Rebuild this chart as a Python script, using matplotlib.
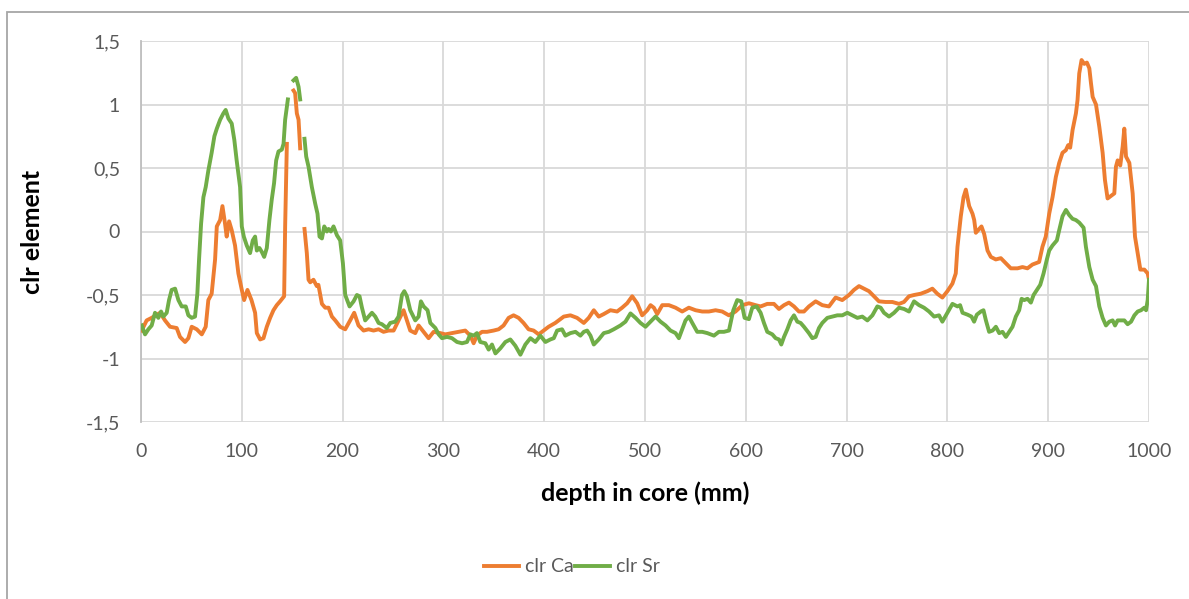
import numpy as np
import matplotlib
matplotlib.use("Agg")
import matplotlib.pyplot as plt
from matplotlib.patches import Rectangle
from matplotlib.lines import Line2D

nan = float("nan")

# ---- data (depth in mm, clr values) ----
ca_depth = [0.7, 5.6, 10.6, 18.9, 23.8, 28.8, 35.4, 38.7, 43.7, 47, 50.3, 55.3, 60.3, 64.2, 66.8, 70.1,
            73.5, 75.2, 78.5, 80.8, 83.4, 85, 87.4, 90, 93.3, 96.6, 100, 102.3, 105.6, 109.6, 113.2, 114.9,
            118.2, 121.5, 124.8, 128.1, 131.4, 134.7, 138, 142, 143, 144.7, 147.5, 151.3, 152.9, 154.6,
            156.3, 157.9, 160, 162.2, 164.5, 166.2, 167.9, 171.1, 174.4, 176, 179.5, 182.8, 186.1, 189.4,
            192.7, 197.6, 202.6, 207.5, 211.5, 215.8, 220.8, 225.8, 230.7, 235.7, 240.6, 245.6, 250.6,
            255.5, 260.5, 263.8, 267.1, 272.1, 275.4, 280.4, 285.3, 290.3, 296.9, 301.9, 308.5, 315.1,
            321.7, 326.7, 330, 333.3, 338.3, 343.2, 349.8, 354.8, 359.7, 364.7, 369.6, 374.6, 379.5,
            384.5, 389.5, 394.5, 399.4, 404.4, 411, 419.4, 426, 432.6, 439.3, 444.2, 449.2, 454.1, 459.1,
            465.7, 472.3, 477.3, 482.3, 487.3, 492.2, 497.2, 502.2, 505.5, 508.8, 512.1, 517.1, 523.7,
            530.3, 536.9, 543.5, 550.2, 556.8, 563.4, 570, 576.6, 583.2, 589.8, 596.5, 603.1, 609.7,
            614.7, 621.3, 627.9, 632.9, 637.9, 642.8, 647.8, 652.7, 657.7, 662.6, 669.3, 675.9, 682.5,
            689.1, 695.7, 702.4, 707.3, 712.3, 717.2, 722.2, 727.2, 732.1, 738.7, 745.4, 752, 756.9,
            761.9, 766.9, 773.5, 780.1, 785.1, 790, 795, 800, 805, 808.3, 810, 813.3, 816, 818.3, 821.6,
            824.9, 826.6, 828.2, 831.5, 833.8, 836.5, 839.8, 843.1, 848, 853, 857.9, 862.9, 869.5, 874.5,
            879.4, 884.4, 891, 894.3, 897.6, 901, 904.3, 907.6, 910.9, 914.2, 917.5, 919.8, 921.8, 924.2,
            927.5, 929.1, 930.8, 933.1, 935.8, 938.4, 940.8, 942.4, 944.1, 947.4, 950.7, 954, 956.3,
            958.9, 962.3, 965.6, 967.2, 968.9, 971.5, 973.9, 975.5, 977.2, 980.5, 983.8, 986.1, 988.7,
            991.4, 995.4, 998.7, 1000]
ca_clr = [-0.78, -0.70, -0.68, -0.64, -0.70, -0.75, -0.76, -0.83, -0.87, -0.84, -0.75, -0.77, -0.81, -0.75,
          -0.54, -0.49, -0.22, 0.04, 0.09, 0.20, 0.06, -0.04, 0.08, 0.01, -0.11, -0.33, -0.46, -0.54, -0.46,
          -0.54, -0.64, -0.80, -0.85, -0.84, -0.75, -0.68, -0.62, -0.58, -0.55, -0.51, 0.04, 0.69, nan,
          1.11, 1.09, 0.93, 0.88, 0.655, nan, 0.02, -0.17, -0.38, -0.40, -0.38, -0.43, -0.42, -0.57, -0.60,
          -0.60, -0.67, -0.70, -0.75, -0.77, -0.70, -0.64, -0.74, -0.78, -0.77, -0.78, -0.77, -0.79, -0.78,
          -0.78, -0.70, -0.62, -0.70, -0.78, -0.80, -0.74, -0.79, -0.84, -0.79, -0.80, -0.81, -0.80, -0.79,
          -0.78, -0.82, -0.88, -0.82, -0.79, -0.79, -0.78, -0.77, -0.74, -0.68, -0.66, -0.68, -0.72, -0.77,
          -0.78, -0.81, -0.78, -0.75, -0.72, -0.67, -0.66, -0.68, -0.72, -0.68, -0.62, -0.67, -0.65, -0.62,
          -0.63, -0.60, -0.565, -0.51, -0.565, -0.66, -0.62, -0.58, -0.60, -0.65, -0.58, -0.58, -0.60,
          -0.63, -0.60, -0.62, -0.63, -0.63, -0.62, -0.63, -0.66, -0.63, -0.58, -0.565, -0.58, -0.59,
          -0.57, -0.57, -0.61, -0.58, -0.56, -0.59, -0.63, -0.63, -0.59, -0.55, -0.58, -0.59, -0.52,
          -0.54, -0.50, -0.46, -0.43, -0.45, -0.47, -0.51, -0.55, -0.555, -0.555, -0.57, -0.555, -0.51,
          -0.50, -0.49, -0.47, -0.45, -0.49, -0.52, -0.47, -0.41, -0.33, -0.12, 0.12, 0.27, 0.33, 0.20,
          0.14, 0.09, -0.01, 0.02, 0.04, -0.02, -0.15, -0.20, -0.22, -0.21, -0.25, -0.29, -0.29, -0.28,
          -0.29, -0.26, -0.24, -0.12, -0.04, 0.14, 0.27, 0.43, 0.54, 0.62, 0.64, 0.68, 0.66, 0.80, 0.93,
          1.035, 1.245, 1.35, 1.32, 1.33, 1.285, 1.17, 1.06, 1.0, 0.825, 0.62, 0.405, 0.26, 0.28, 0.30,
          0.51, 0.56, 0.52, 0.67, 0.81, 0.59, 0.54, 0.30, -0.04, -0.17, -0.30, -0.30, -0.33, -0.38]

sr_depth = [0.7, 4, 7.3, 10.6, 13.9, 17.2, 19.9, 22.2, 25.5, 27.8, 30.4, 33.8, 37.1, 40.4, 44.4, 47, 50.3,
            53.6, 55.9, 57.6, 59.6, 61.9, 64.2, 66.8, 70.1, 72.8, 75.2, 78.5, 81.7, 84, 86.7, 90, 92.6,
            94.9, 98.3, 100, 102, 104.9, 108.2, 110.9, 113.2, 114.9, 117.5, 119.8, 122.2, 124.8, 127.4,
            129.7, 132, 134.1, 136.4, 139.7, 141.4, 143, 145.7, 148, 151.3, 153.9, 156.3, 157.9, 160,
            162.2, 163.9, 166.2, 169.5, 172.8, 175.1, 177.1, 179.5, 181.8, 184.4, 186.1, 188.4, 191,
            194.4, 197.6, 200.3, 202.6, 206.9, 210.9, 214.2, 216.8, 219.2, 222.4, 225.8, 229.1, 232.4,
            235.7, 239, 243.9, 247.3, 252.2, 255.5, 258.9, 261.2, 263.8, 267.1, 272.1, 275.4, 277.7,
            280.4, 284.3, 287, 292, 295.3, 298.6, 303.6, 308.5, 313.5, 318.5, 323.4, 326.7, 330, 333.3,
            336.6, 341.6, 344.9, 348.2, 351.6, 356.5, 361.5, 366.4, 371.4, 376.4, 381.3, 386.3, 391.2,
            396.2, 401.2, 406.1, 409.5, 412.8, 417.7, 421, 426, 431, 435.9, 439.3, 442.6, 445.9, 449.2,
            454.1, 459.1, 464.1, 469, 475.6, 480.6, 485.6, 490.6, 495.5, 500.5, 505.5, 510.4, 515.4,
            520.4, 525.3, 530.3, 533.6, 536.9, 540.2, 543.5, 546.9, 551.8, 556.8, 561.8, 568.4, 573.3,
            578.3, 583.3, 587.6, 591.5, 595.5, 598.8, 603.1, 606.4, 610.7, 614.7, 618, 621.3, 626.3,
            629.6, 632.9, 635.2, 637.9, 641.2, 644.5, 647.8, 651.1, 654.4, 657.7, 662.6, 666, 669.3,
            672.6, 675.9, 680.9, 685.8, 690.8, 695.8, 700.7, 705.7, 710.7, 715.6, 720.6, 725.6, 730.5,
            733.8, 737.1, 742.1, 747.1, 752, 757, 761.9, 766.9, 771.9, 776.8, 781.8, 786.8, 791.7, 795,
            800, 805, 810, 812.6, 815, 820, 823.9, 826.5, 829.2, 833.2, 835.8, 838.2, 841.4, 844.8,
            848.1, 851.4, 854.7, 858, 861.3, 864.6, 867.9, 871.2, 873.6, 876.2, 879.5, 882.8, 885.5,
            888.8, 892.1, 895.4, 898.7, 901, 904.3, 908.6, 910.9, 914.2, 917.6, 920.8, 924.1, 927.5,
            930.8, 935.1, 937.4, 940.8, 944.1, 947.4, 950.7, 954, 957.3, 960.6, 963.9, 966.3, 968.9,
            972.2, 975.5, 978.8, 982.2, 985.5, 988.8, 992.1, 995.4, 997.1, 998.7, 1000]
sr_clr = [-0.74, -0.81, -0.77, -0.74, -0.64, -0.68, -0.63, -0.67, -0.64, -0.54, -0.46, -0.45, -0.54, -0.59,
          -0.59, -0.66, -0.68, -0.67, -0.49, -0.22, 0.06, 0.27, 0.35, 0.48, 0.62, 0.75, 0.81, 0.88, 0.93,
          0.957, 0.89, 0.85, 0.72, 0.56, 0.35, 0.04, -0.04, -0.11, -0.17, -0.07, -0.04, -0.15, -0.13,
          -0.16, -0.20, -0.13, 0.09, 0.25, 0.38, 0.56, 0.63, 0.645, 0.69, 0.88, 1.04, nan, 1.19, 1.21,
          1.14, 1.04, nan, 0.73, 0.59, 0.51, 0.35, 0.22, 0.14, -0.04, -0.055, 0.04, 0.0, 0.02, 0.0, 0.04,
          -0.03, -0.07, -0.25, -0.50, -0.59, -0.55, -0.50, -0.51, -0.60, -0.70, -0.67, -0.64, -0.67,
          -0.72, -0.73, -0.76, -0.72, -0.71, -0.67, -0.50, -0.47, -0.51, -0.62, -0.70, -0.67, -0.55,
          -0.59, -0.62, -0.72, -0.76, -0.81, -0.84, -0.83, -0.84, -0.87, -0.88, -0.87, -0.81, -0.82,
          -0.80, -0.87, -0.88, -0.93, -0.89, -0.96, -0.92, -0.87, -0.85, -0.90, -0.97, -0.89, -0.84,
          -0.87, -0.82, -0.87, -0.85, -0.84, -0.78, -0.77, -0.82, -0.80, -0.79, -0.82, -0.79, -0.78,
          -0.82, -0.89, -0.85, -0.80, -0.79, -0.77, -0.74, -0.71, -0.645, -0.68, -0.72, -0.75, -0.71,
          -0.67, -0.71, -0.74, -0.78, -0.80, -0.84, -0.77, -0.70, -0.67, -0.72, -0.79, -0.79, -0.80,
          -0.82, -0.79, -0.79, -0.78, -0.62, -0.54, -0.55, -0.68, -0.69, -0.60, -0.59, -0.64, -0.72,
          -0.79, -0.81, -0.84, -0.85, -0.89, -0.83, -0.77, -0.70, -0.66, -0.71, -0.72, -0.75, -0.80,
          -0.84, -0.83, -0.76, -0.72, -0.68, -0.67, -0.66, -0.66, -0.64, -0.66, -0.68, -0.67, -0.70,
          -0.66, -0.59, -0.60, -0.64, -0.67, -0.64, -0.60, -0.61, -0.63, -0.55, -0.58, -0.60, -0.63,
          -0.67, -0.66, -0.71, -0.64, -0.57, -0.59, -0.58, -0.64, -0.655, -0.67, -0.71, -0.655, -0.63,
          -0.62, -0.70, -0.79, -0.78, -0.75, -0.80, -0.79, -0.83, -0.79, -0.75, -0.67, -0.62, -0.53,
          -0.54, -0.53, -0.56, -0.50, -0.46, -0.42, -0.33, -0.22, -0.15, -0.11, -0.07, 0.01, 0.12, 0.17,
          0.13, 0.10, 0.09, 0.07, 0.03, -0.12, -0.28, -0.38, -0.43, -0.59, -0.68, -0.74, -0.71, -0.70,
          -0.74, -0.70, -0.70, -0.70, -0.73, -0.71, -0.66, -0.63, -0.62, -0.60, -0.62, -0.54, -0.38]

x_ticks = [0, 100, 200, 300, 400, 500, 600, 700, 800, 900, 1000]
y_ticks = [-1.5, -1, -0.5, 0, 0.5, 1, 1.5]
y_tick_labels = ["-1,5", "-1", "-0,5", "0", "0,5", "1", "1,5"]
series_labels = ["clr Ca", "clr Sr"]

# ---- figure ----
W, H = 1189, 599
fig = plt.figure(figsize=(W / 100, H / 100), dpi=100)
plt.rcParams["font.family"] = ["Lato", "DejaVu Sans"]

ax = fig.add_axes([141 / W, 1 - 422 / H, (1149 - 141) / W, (422 - 41) / H])

ca_col = "#ED7D31"
sr_col = "#70AD47"
ax.plot(ca_depth, ca_clr, color=ca_col, lw=2.8, solid_joinstyle="round", zorder=3)
ax.plot(sr_depth, sr_clr, color=sr_col, lw=2.8, solid_joinstyle="round", zorder=3)

ax.set_xlim(0, 1000)
ax.set_ylim(-1.5, 1.5)
ax.set_xticks(x_ticks)
ax.set_xticklabels([str(t) for t in x_ticks])
ax.set_yticks(y_ticks)
ax.set_yticklabels(y_tick_labels)
ax.grid(True, color="#d9d9d9", lw=1.3)
ax.set_axisbelow(True)
for s in ["top", "right", "bottom"]:
    ax.spines[s].set_visible(False)
ax.spines["left"].set_color("#bfbfbf")
ax.spines["left"].set_linewidth(1.3)
ax.tick_params(length=0, labelsize=14, colors="#595959", pad=15)
ax.tick_params(axis="x", pad=15)

fig.text(645 / W, 1 - 493 / H, "depth in core (mm)", ha="center", va="center",
         fontsize=18, fontweight="bold", color="#000000")
fig.text(33 / W, 1 - 232 / H, "clr element", ha="center", va="center", rotation=90,
         fontsize=18, fontweight="bold", color="#000000")

handles = [Line2D([], [], color=ca_col, lw=2.8), Line2D([], [], color=sr_col, lw=2.8)]
fig.legend(handles, series_labels, loc="center", bbox_to_anchor=(572 / W, 1 - 567 / H),
           ncol=2, frameon=False, fontsize=14, handlelength=1.8, handletextpad=0.3,
           columnspacing=0.1, labelcolor="#595959")

# outer chart border
fig.patches.append(Rectangle((7 / W, -0.5), 2.0, 0.5 + (1 - 12 / H), transform=fig.transFigure,
                             fill=False, edgecolor="#a6a6a6", lw=1.3))

fig.savefig("out.png", dpi=100)
